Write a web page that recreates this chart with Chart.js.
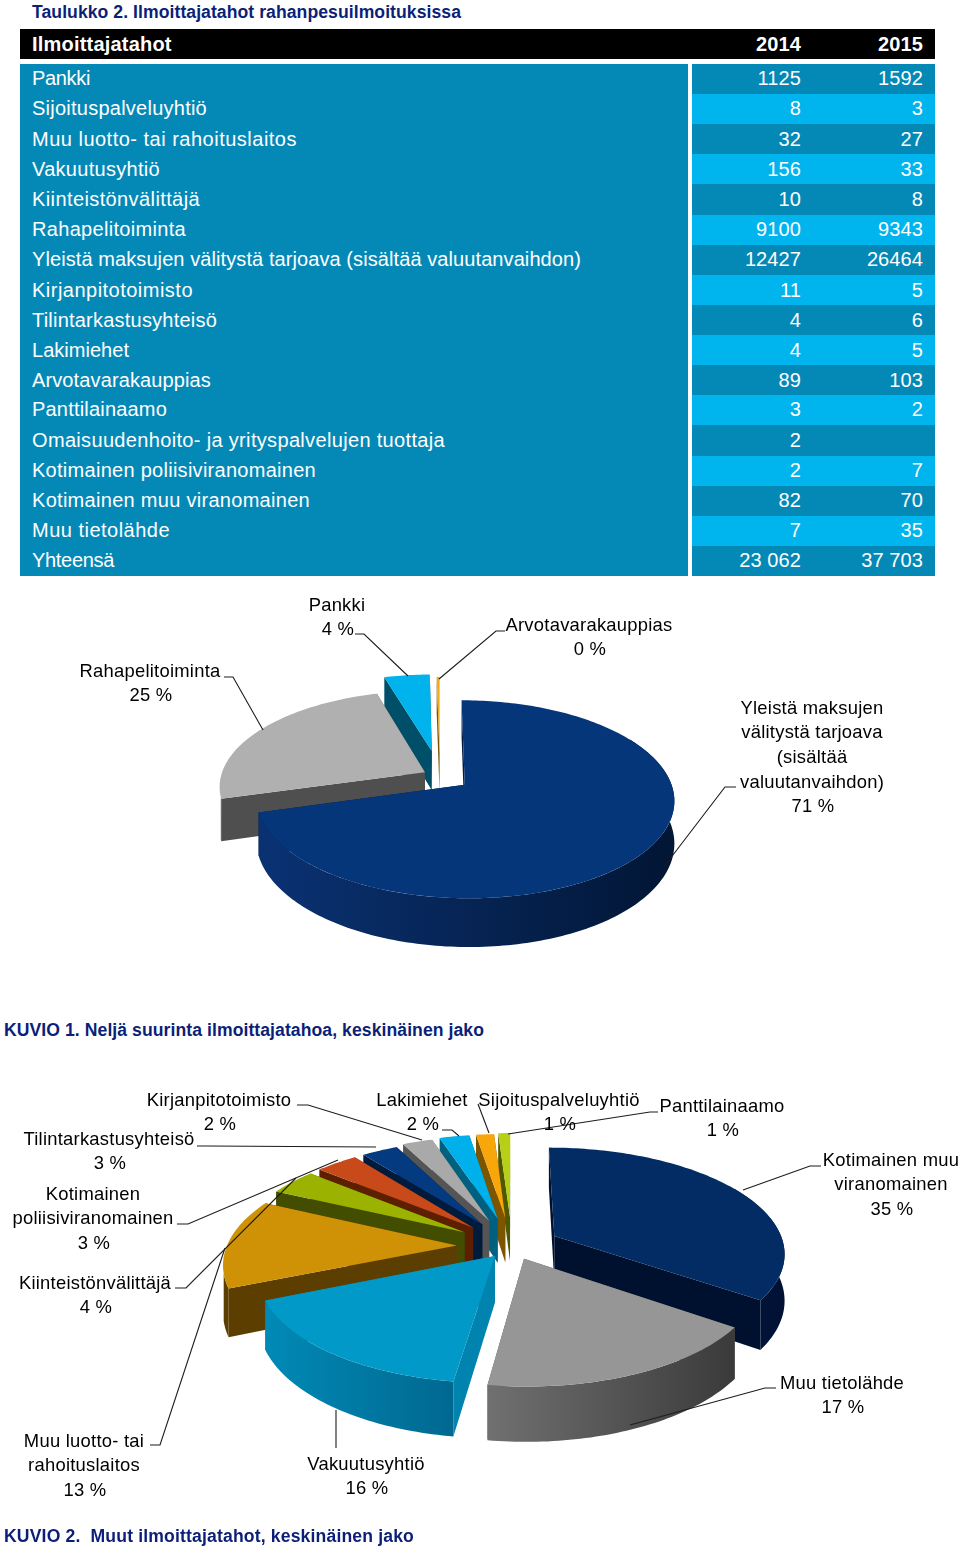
<!DOCTYPE html>
<html lang="fi"><head><meta charset="utf-8">
<script src="https://cdn.jsdelivr.net/npm/chart.js@4"></script>
<style>
html,body{margin:0;padding:0;background:#fff;width:960px;height:1549px;overflow:hidden}
body{position:relative;font-family:"Liberation Sans",Arial,sans-serif}
.abs{position:absolute;white-space:pre}
.cap{font-weight:bold;color:#0b1f78;font-size:17.6px;line-height:20px}
.cell{color:#fff;font-size:20px;line-height:30px}
.num{text-align:right;width:110px;letter-spacing:.1px}
canvas{position:absolute;left:0;display:block}
</style></head><body>
<div class="abs cap fit" data-w="429" style="left:32px;top:2px">Taulukko 2. Ilmoittajatahot rahanpesuilmoituksissa</div>
<div class="abs" style="left:20px;top:29px;width:915px;height:30px;background:#000"></div>
<div class="abs" style="left:20px;top:64px;width:668px;height:512px;background:#0489b7"></div>
<div id="table"></div>
<canvas id="pie1" width="960" height="420" style="top:590px"></canvas>
<canvas id="pie2" width="960" height="470" style="top:1060px"></canvas>
<div class="abs cap fit" data-w="480" style="left:4px;top:1020px">KUVIO 1. Neljä suurinta ilmoittajatahoa, keskinäinen jako</div>
<div class="abs cap fit" data-w="410" style="left:4px;top:1526px">KUVIO 2.  Muut ilmoittajatahot, keskinäinen jako</div>
<script>
// ---------- table data ----------
const tableHeader = ["Ilmoittajatahot", "2014", "2015"];
const tableRows = ["Pankki","Sijoituspalveluyhtiö","Muu luotto- tai rahoituslaitos","Vakuutusyhtiö","Kiinteistönvälittäjä","Rahapelitoiminta","Yleistä maksujen välitystä tarjoava (sisältää valuutanvaihdon)","Kirjanpitotoimisto","Tilintarkastusyhteisö","Lakimiehet","Arvotavarakauppias","Panttilainaamo","Omaisuudenhoito- ja yrityspalvelujen tuottaja","Kotimainen poliisiviranomainen","Kotimainen muu viranomainen","Muu tietolähde","Yhteensä"];
const values2014 = ["1125","8","32","156","10","9100","12427","11","4","4","89","3","2","2","82","7","23 062"];
const values2015 = ["1592","3","27","33","8","9343","26464","5","6","5","103","2","","7","70","35","37 703"];
// layout of the first column: text widths and text tops, in pixels
const rowTextWidths = [58,175,265,128,168,154,549,161,185,97,179,135,413,284,278,138,82];
const rowTextTops = [63,93,124,154,184,214,244,275,305,335,365,394,425,455,485,515,545];

// ---------- chart 1 data ----------
const pie1Labels = ["Yleistä maksujen välitystä tarjoava (sisältää valuutanvaihdon)","Rahapelitoiminta","Pankki","Arvotavarakauppias"];
const pie1Values = [26464, 9343, 1592, 103];
const pie1Explode = [15, 8.5, 28, 24];
const pie1Colors = ["#05367a","#b0b0b0","#00b3ec","#f4aa17"];
const pie1Walls = ["#031a42","#4f4f4f","#004f68","#7a5500"];
const pie1WallFrom = ["#0a3273","#5a5a5a","#004f68","#7a5500"];
const pie1WallTo = ["#021635","#4f4f4f","#004f68","#7a5500"];

// ---------- chart 2 data ----------
const pie2Labels = ["Kotimainen muu viranomainen","Muu tietolähde","Vakuutusyhtiö","Muu luotto- tai rahoituslaitos","Kiinteistönvälittäjä","Kotimainen poliisiviranomainen","Tilintarkastusyhteisö","Kirjanpitotoimisto","Lakimiehet","Sijoituspalveluyhtiö","Panttilainaamo"];
const pie2Values = [70, 35, 33, 27, 8, 7, 6, 5, 5, 3, 2];
const pie2Explode = [21, 13, 12, 24, 25, 25, 25, 27, 28, 28, 29];
const pie2Colors = ["#022c63","#969696","#0099c8","#cf9207","#9bb300","#c8491a","#033a80","#a9a9a9","#00b0ea","#f7a70a","#b7cf14"];
const pie2Walls = ["#00112f","#555555","#0083ae","#5c3f00","#434d00","#5c2000","#001b3c","#555555","#00607f","#7d5400","#4d5800"];
const pie2WallFrom = ["#00183f","#707070","#008ab6","#5c3f00","#434d00","#5c2000","#001b3c","#555555","#00607f","#7d5400","#4d5800"];
const pie2WallTo = ["#001133","#3a3a3a","#006890","#5c3f00","#434d00","#5c2000","#001b3c","#555555","#00607f","#7d5400","#4d5800"];

// ---------- table ----------
const tbl = document.getElementById('table');
function addCell(txt, left, top, cls, extra){
  const d = document.createElement('div');
  d.className = 'abs cell ' + (cls||'');
  d.textContent = txt;
  d.style.left = left + 'px';
  d.style.top = top + 'px';
  if (extra) Object.assign(d.style, extra);
  tbl.appendChild(d);
  return d;
}
function fitWidth(el, w){
  const cur = el.getBoundingClientRect().width;
  el.style.letterSpacing = ((w - cur) / el.textContent.length) + 'px';
}
addCell(tableHeader[0], 32, 29, '', {fontWeight:'bold', letterSpacing:'.2px'});
addCell(tableHeader[1], 691, 29, 'num', {fontWeight:'bold'});
addCell(tableHeader[2], 813, 29, 'num', {fontWeight:'bold'});
const rowH = 512 / tableRows.length;
tableRows.forEach((name, i) => {
  const top = 64 + i * rowH;
  const bg = document.createElement('div');
  bg.className = 'abs';
  Object.assign(bg.style, {left:'692px', top: top+'px', width:'243px', height:(rowH+0.5)+'px', background: i%2 ? '#00b4ee' : '#0489b7'});
  tbl.appendChild(bg);
  fitWidth(addCell(name, 32, rowTextTops[i]), rowTextWidths[i]);
  addCell(values2014[i], 691, rowTextTops[i], 'num');
  addCell(values2015[i], 813, rowTextTops[i], 'num');
});
document.querySelectorAll('.fit').forEach(el => fitWidth(el, +el.dataset.w));

// ---------- 3D pie drawn from Chart.js arc elements ----------
const RAD = Math.PI / 180;
const pie3d = {
  id: 'pie3d',
  beforeDatasetsDraw(chart, args, o) {
    const ctx = chart.ctx, meta = chart.getDatasetMeta(0), ds = chart.data.datasets[0];
    const cx = meta.data[0].x, cy = meta.data[0].y;
    const P = (wx, wy, z) => { const s = 1 / (1 + o.k * wy); return [cx + o.rx * wx * s, cy - o.ry * wy * s + z * s]; };
    const items = meta.data.map((arc, i) => {
      const a = arc.startAngle + Math.PI / 2, b = arc.endAngle + Math.PI / 2, m = (a + b) / 2;
      const e = arc.options.offset / 100;
      return {i, a, b, m, ex: e * Math.sin(m), ey: e * Math.cos(m)};
    }).sort((p, q) => Math.cos(q.m) - Math.cos(p.m));
    const poly = (pts, fill) => {
      ctx.beginPath();
      pts.forEach((p, n) => n ? ctx.lineTo(p[0], p[1]) : ctx.moveTo(p[0], p[1]));
      ctx.closePath(); ctx.fillStyle = fill; ctx.fill();
    };
    const rim = (it, from, to, z) => {
      const pts = [], n = Math.max(2, Math.ceil((to - from) / 0.02));
      for (let j = 0; j <= n; j++) {
        const t = from + (to - from) * j / n;
        pts.push(P(it.ex + Math.sin(t), it.ey + Math.cos(t), z));
      }
      return pts;
    };
    ctx.save();
    items.forEach(it => {
      const top = rim(it, it.a, it.b, 0), bot = rim(it, it.a, it.b, o.h);
      const a0 = P(it.ex, it.ey, 0), a1 = P(it.ex, it.ey, o.h);
      const side = ds.wallColors[it.i];
      poly([a0, top[0], bot[0], a1], side);
      poly([a0, top[top.length - 1], bot[bot.length - 1], a1], side);
      // curved wall: only the part facing the viewer
      const from = Math.max(it.a, 60 * RAD), to = Math.min(it.b, 255 * RAD);
      if (to > from) {
        const t2 = rim(it, from, to, 0), b2 = rim(it, from, to, o.h);
        const xs = t2.map(p => p[0]);
        const g = ctx.createLinearGradient(Math.min(...xs), 0, Math.max(...xs), 0);
        g.addColorStop(0, ds.wallFrom[it.i]); g.addColorStop(1, ds.wallTo[it.i]);
        poly(t2.concat(b2.slice().reverse()), g);
      }
      poly([a0].concat(top), meta.data[it.i].options.backgroundColor);
    });
    ctx.restore();
    return false;
  },
  afterDraw(chart, args, o) {
    const ctx = chart.ctx, vals = chart.data.datasets[0].data;
    const total = vals.reduce((a, b) => a + b, 0);
    ctx.save();
    ctx.strokeStyle = '#1c1c1c'; ctx.lineWidth = 1.1;
    o.leaders.forEach(l => {
      ctx.beginPath();
      l.forEach((p, n) => n ? ctx.lineTo(p[0], p[1] - o.top) : ctx.moveTo(p[0], p[1] - o.top));
      ctx.stroke();
    });
    ctx.fillStyle = '#000'; ctx.font = '18.4px "Liberation Sans", Arial, sans-serif';
    ctx.letterSpacing = '0.25px';
    ctx.textAlign = 'center'; ctx.textBaseline = 'middle';
    o.labels.forEach(l => {
      l.lines.forEach((t, n) => ctx.fillText(t, l.x, l.y + 1.5 + n * 24.7 - o.top));
      ctx.fillText(Math.round(vals[l.index] / total * 100) + ' %', l.x + 1, l.y + 1.5 + l.lines.length * 24.7 - o.top);
    });
    ctx.restore();
  }
};

function makePie(id, labels, values, explode, colors, walls, from, to, cfg) {
  return new Chart(document.getElementById(id), {
    type: 'pie',
    data: { labels, datasets: [{ data: values, offset: explode, backgroundColor: colors, borderWidth: 0, hoverOffset: 0, wallColors: walls, wallFrom: from, wallTo: to }] },
    options: {
      responsive: false, animation: false, devicePixelRatio: 1, rotation: 0,
      layout: { padding: cfg.padding },
      plugins: { legend: { display: false }, tooltip: { enabled: false }, pie3d: cfg.pie }
    },
    plugins: [pie3d]
  });
}

makePie('pie1', pie1Labels, pie1Values, pie1Explode, pie1Colors, pie1Walls, pie1WallFrom, pie1WallTo, {
  padding: { right: 80, bottom: 48 },
  pie: { rx: 204, ry: 94.3, k: 0.146, h: 41, top: 590,
    labels: [
      { index: 1, x: 150, y: 670, lines: ["Rahapelitoiminta"] },
      { index: 2, x: 337, y: 604, lines: ["Pankki"] },
      { index: 3, x: 589, y: 624, lines: ["Arvotavarakauppias"] },
      { index: 0, x: 812, y: 707, lines: ["Yleistä maksujen","välitystä tarjoava","(sisältää","valuutanvaihdon)"] }
    ],
    leaders: [
      [[224,677],[233,677],[263,730]],
      [[355,634],[364,634],[408,676]],
      [[505,631],[496,631],[439,679]],
      [[736,787],[725,787],[663,868]]
    ] }
});

makePie('pie2', pie2Labels, pie2Values, pie2Explode, pie2Colors, pie2Walls, pie2WallFrom, pie2WallTo, {
  padding: { left: 64, bottom: 98 },
  pie: { rx: 230, ry: 104.5, k: 0.15, h: 46, top: 1060,
    labels: [
      { index: 7, x: 219, y: 1099, lines: ["Kirjanpitotoimisto"] },
      { index: 6, x: 109, y: 1138, lines: ["Tilintarkastusyhteisö"] },
      { index: 5, x: 93, y: 1193, lines: ["Kotimainen","poliisiviranomainen"] },
      { index: 4, x: 95, y: 1282, lines: ["Kiinteistönvälittäjä"] },
      { index: 3, x: 84, y: 1440, lines: ["Muu luotto- tai","rahoituslaitos"] },
      { index: 2, x: 366, y: 1463, lines: ["Vakuutusyhtiö"] },
      { index: 8, x: 422, y: 1099, lines: ["Lakimiehet"] },
      { index: 9, x: 559, y: 1099, lines: ["Sijoituspalveluyhtiö"] },
      { index: 10, x: 722, y: 1105, lines: ["Panttilainaamo"] },
      { index: 0, x: 891, y: 1159, lines: ["Kotimainen muu","viranomainen"] },
      { index: 1, x: 842, y: 1382, lines: ["Muu tietolähde"] }
    ],
    leaders: [
      [[297,1105],[308,1105],[422,1140]],
      [[197,1146],[208,1146],[376,1147]],
      [[177,1224],[188,1224],[338,1160]],
      [[175,1288],[186,1288],[296,1178]],
      [[150,1445],[160,1445],[225,1248]],
      [[336,1448],[336,1410]],
      [[442,1130],[452,1130],[459,1136]],
      [[478,1104],[489,1133]],
      [[658,1112],[650,1112],[508,1134]],
      [[821,1166],[810,1166],[743,1190]],
      [[776,1388],[765,1388],[630,1425]]
    ] }
});
</script>
</body></html>
